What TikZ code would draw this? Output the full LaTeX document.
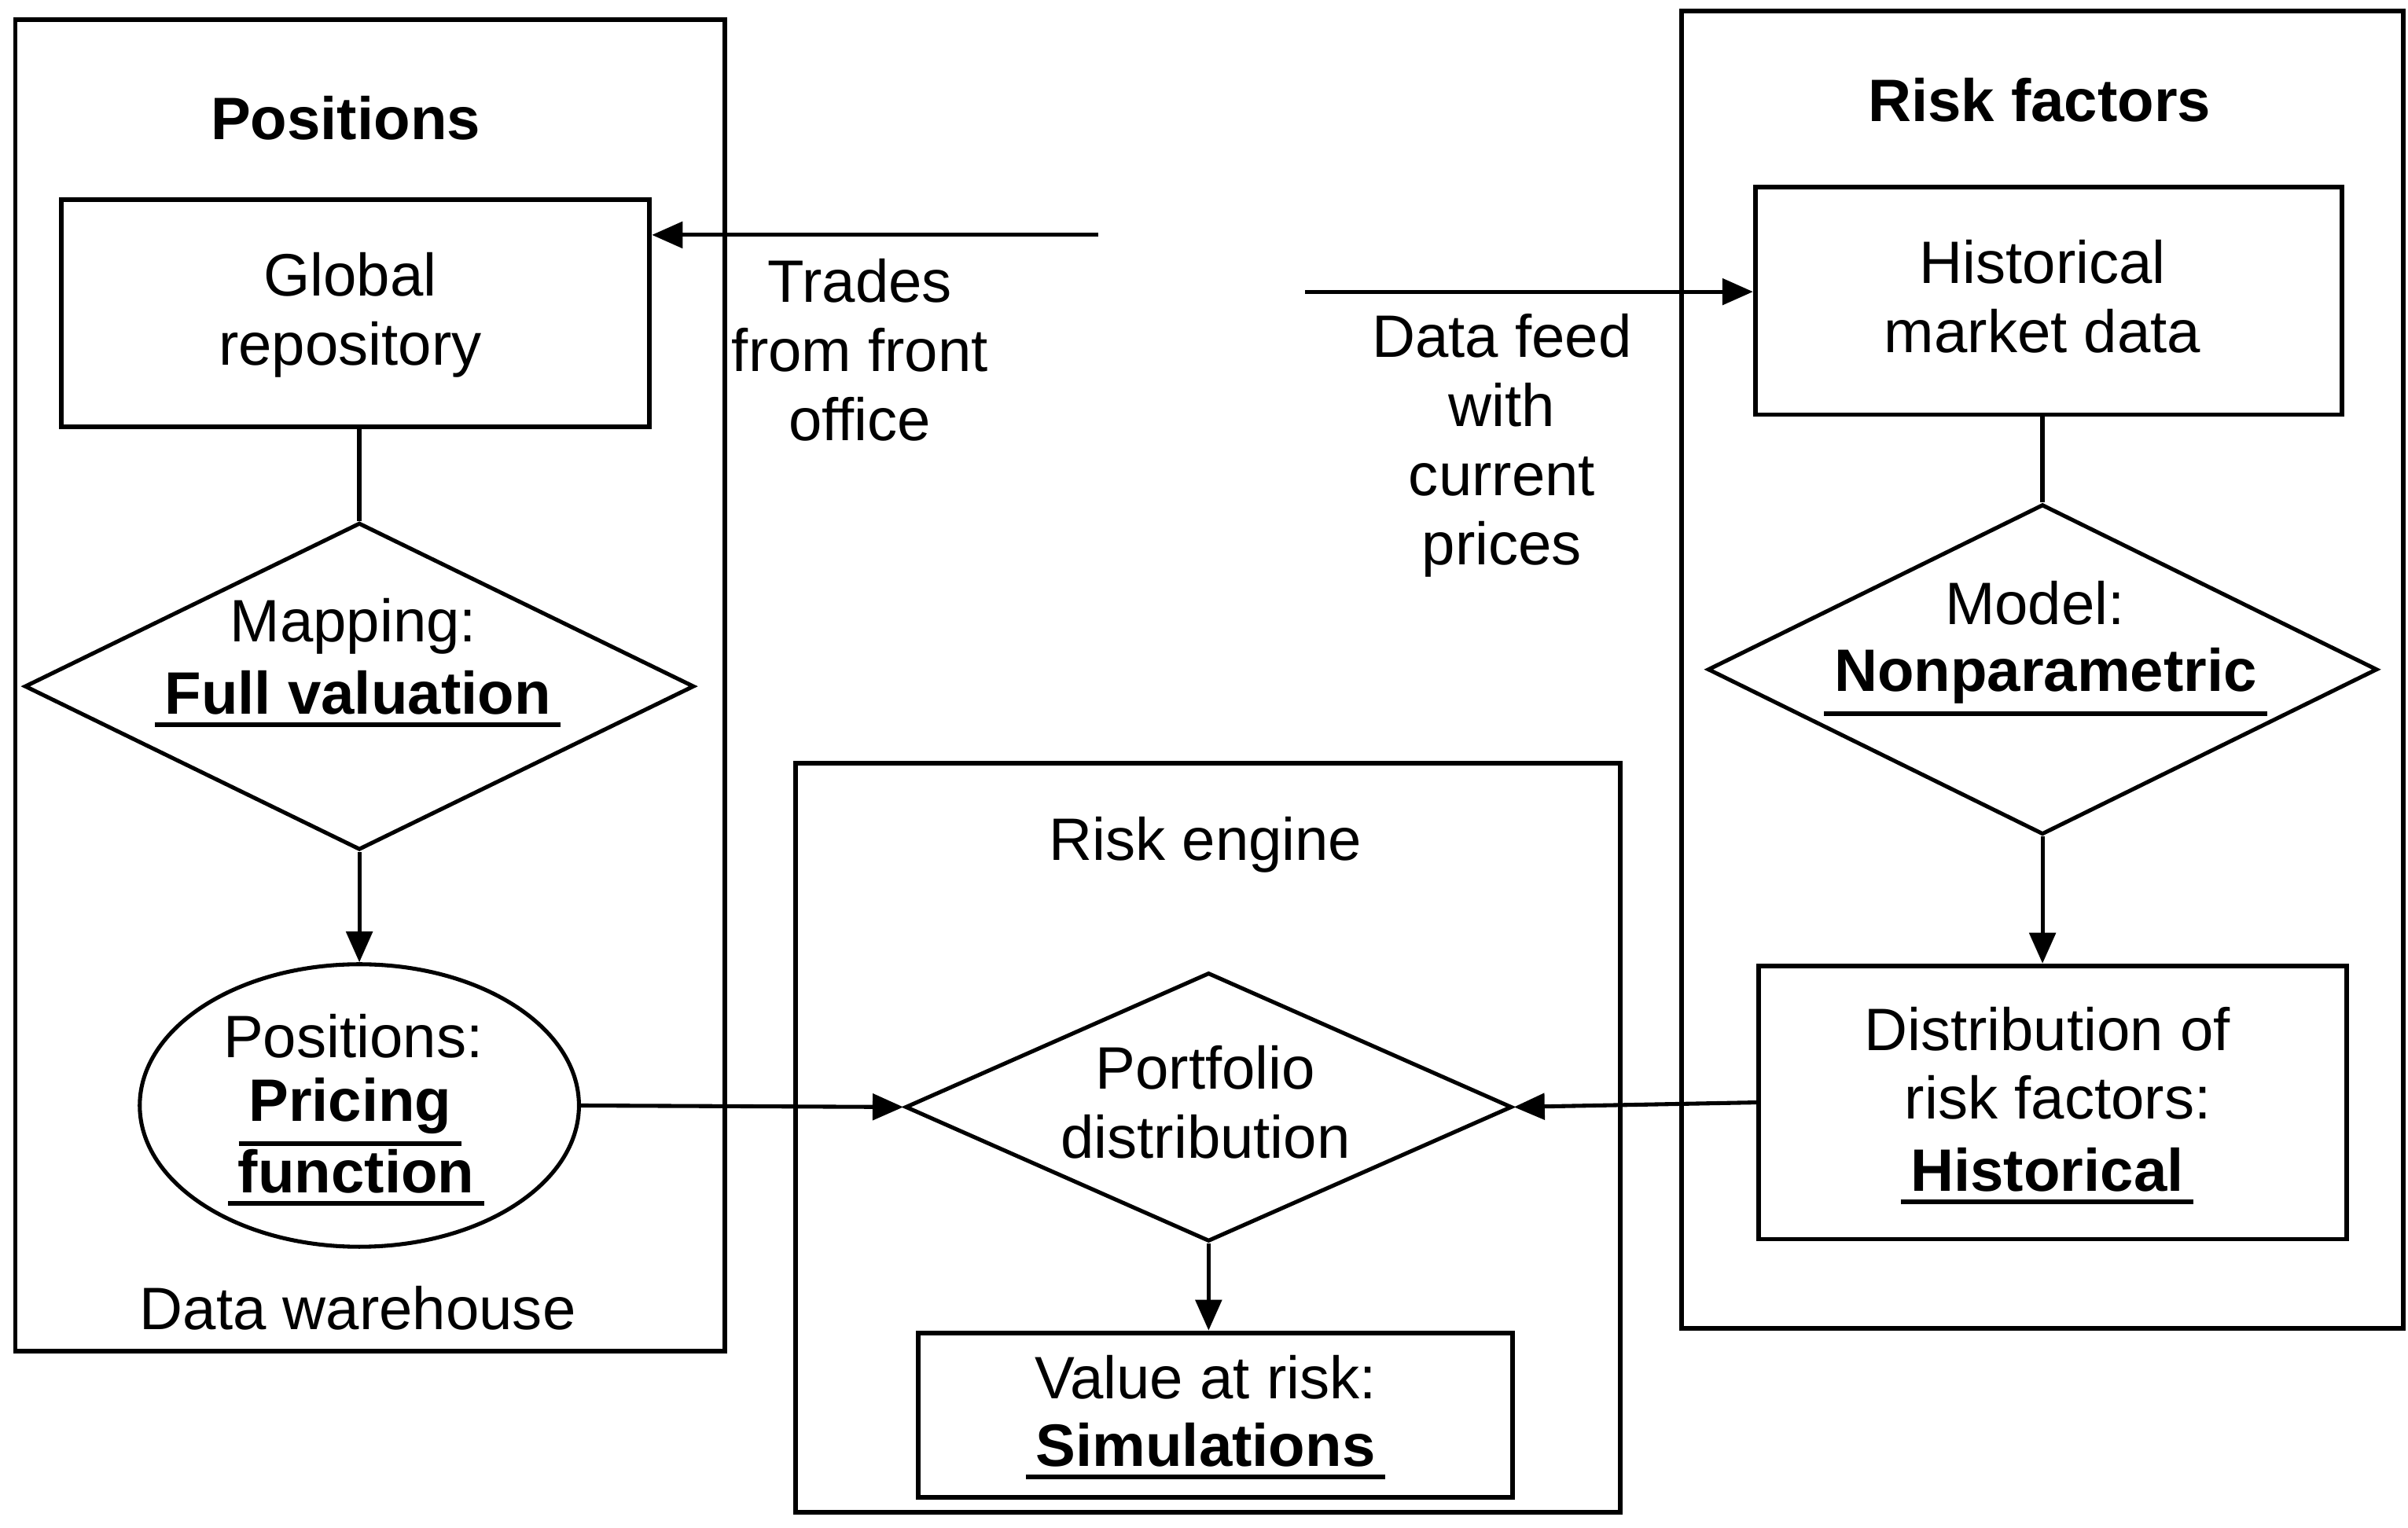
\documentclass[tikz,border=0pt]{standalone}
\usepackage{fontspec}
\setmainfont{Liberation Sans}
\usetikzlibrary{shapes.geometric,arrows.meta}
\begin{document}
\begin{tikzpicture}[x=1pt,y=-1pt,
  line width=3pt,
  every node/.style={font=\fontsize{39}{45}\selectfont},
  frame/.style={draw,rectangle,inner sep=0pt,line width=3pt},
  dia/.style={draw,diamond,inner sep=0pt,line width=2.6pt},
  txt/.style={inner sep=0pt,align=center},
  btxt/.style={inner sep=0pt,font=\fontsize{39}{45}\selectfont\bfseries},
  arr/.style={-{Triangle[length=20pt,width=17pt]},line width=2.6pt},
  ul/.style={line width=3pt}]
\useasboundingbox (0,0) rectangle (1568,995);
% containers
\node[frame,minimum width=462pt,minimum height=867pt] (posbox) at (241,446.5) {};
\node[frame,minimum width=470pt,minimum height=858pt] (rfbox) at (1330,436) {};
\node[frame,minimum width=537pt,minimum height=488pt] (rebox) at (786.5,741) {};
% inner boxes
\node[frame,minimum width=383pt,minimum height=148pt] (glob) at (231.5,204) {};
\node[frame,minimum width=382pt,minimum height=148pt] (hist) at (1334,196) {};
\node[frame,minimum width=383pt,minimum height=178pt] (dist) at (1336.5,718) {};
\node[frame,minimum width=387pt,minimum height=107pt] (var) at (791.5,921.5) {};
% diamonds and ellipse
\node[dia,minimum width=436pt,minimum height=213pt] (mapd) at (234,447) {};
\node[dia,minimum width=436pt,minimum height=215pt] (modd) at (1330,436) {};
\node[dia,minimum width=395pt,minimum height=175pt] (portd) at (787,721) {};
\node[draw,ellipse,inner sep=0pt,line width=2.6pt,minimum width=286pt,minimum height=184pt] (ell) at (234,720) {};
% titles and texts
\node[btxt] (tpos) at (225,77) {Positions};
\node[btxt] (trf) at (1328,65) {Risk factors};
\node[txt] (tglob) at (228,205) {Global\\repository};
\node[txt] (thist) at (1330,193) {Historical\\market data};
\node[txt] (ttrades) at (560,228) {Trades\\from front\\office};
\node[txt] (tfeed) at (978,290) {Data feed\\with\\current\\prices};
\node[txt] (tmap) at (230,408) {Mapping:};
\node[btxt] (tfv) at (233,451) {Full valuation};
\node[txt] (tposc) at (230,675) {Positions:};
\node[btxt] (tpr) at (228,720) {Pricing};
\node[btxt] (tfn) at (232,763) {function};
\node[txt] (tdw) at (233,852) {Data warehouse};
\node[txt] (tre) at (785,550) {Risk engine};
\node[txt] (tport) at (785,718) {Portfolio\\distribution};
\node[txt] (tvar) at (785,897) {Value at risk:};
\node[btxt] (tsim) at (785,941) {Simulations};
\node[txt] (tmod) at (1325,393) {Model:};
\node[btxt] (tnp) at (1332,440) {Nonparametric};
\node[txt] (tdist) at (1333,670) {Distribution of};
\node[txt] (trisk) at (1340,715) {risk factors:};
\node[btxt] (thi) at (1333,762) {Historical};
% underlines
\foreach \t in {tfv,tpr,tfn,tsim,tnp,thi}
  \draw[ul] ([xshift=-5pt,yshift=-5pt]\t.south west) -- ([xshift=5pt,yshift=-5pt]\t.south east);
% connectors
\draw (mapd.north) -- (mapd.north |- glob.south);
\draw[arr] (mapd.south) -- (ell.north);
\draw[arr] (ell.east) -- (portd.west);
\draw (modd.north) -- (modd.north |- hist.south);
\draw[arr] (modd.south) -- (modd.south |- dist.north);
\draw[arr] (dist.west) -- (portd.east);
\draw[arr] (portd.south) -- (portd.south |- var.north);
\coordinate (tradesStart) at (715,153);
\draw[arr] (tradesStart) -- (tradesStart -| glob.east);
\coordinate (feedStart) at (850,190);
\draw[arr] (feedStart) -- (feedStart -| hist.west);
\end{tikzpicture}
\end{document}
